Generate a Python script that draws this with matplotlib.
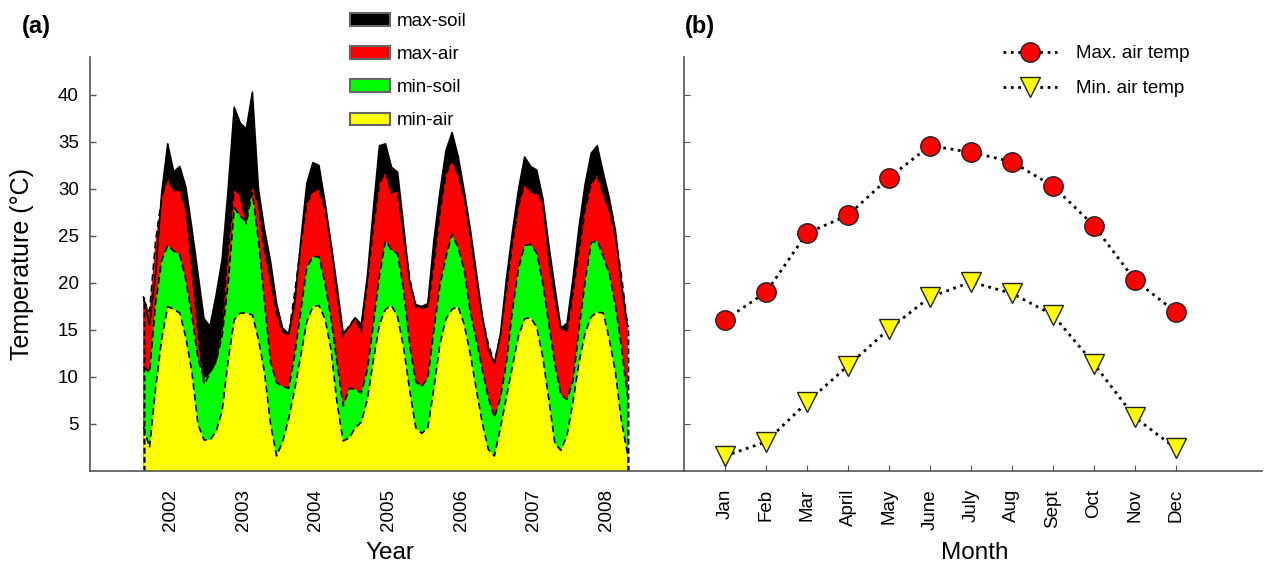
import numpy as np
import matplotlib
matplotlib.use("Agg")
import matplotlib.pyplot as plt
from matplotlib.patches import Patch

plt.rcParams['font.family'] = ['Liberation Sans', 'DejaVu Sans']

# ---- panel (a): monthly series, Feb 2002 .. Oct 2008 ----
month_idx = np.arange(1, 82)          # months counted from Jan 2002
dates = 2002 + (month_idx + 0.5) / 12  # mid-month, decimal year

max_soil = [18.5, 15.5, 21.0, 29.5, 34.8, 31.8, 32.4, 30.2, 25.8, 21.0,
            16.2, 15.4, 18.7, 22.5, 30.0, 38.7, 37.0, 36.4, 40.3, 30.0,
            25.7, 22.3, 17.8, 15.2, 14.6, 17.8, 24.5, 30.6, 32.8, 32.5,
            28.6, 24.2, 19.6, 14.7, 15.3, 16.3, 15.6, 20.7, 27.9, 34.6,
            34.8, 32.3, 31.8, 26.0, 20.1, 17.7, 17.5, 17.8, 24.5, 29.7,
            34.1, 36.0, 33.5, 29.8, 25.8, 21.2, 16.5, 12.9, 11.5, 14.5,
            20.5, 25.5, 30.0, 33.4, 32.4, 32.0, 29.0, 24.0, 19.5, 15.2,
            15.7, 20.5, 26.0, 30.5, 33.8, 34.6, 31.7, 29.0, 25.6, 19.8,
            15.4]
max_air = [18.2, 17.0, 24.5, 29.0, 31.2, 29.8, 29.9, 27.8, 21.7, 14.7,
           9.2, 10.4, 11.7, 15.3, 23.5, 30.0, 29.3, 26.3, 30.4, 28.3,
           23.5, 20.4, 16.8, 14.8, 14.5, 19.0, 24.0, 28.5, 29.7, 30.0,
           27.9, 24.0, 18.7, 14.3, 15.5, 16.3, 14.8, 20.0, 26.0, 30.6,
           31.8, 29.6, 29.8, 25.0, 20.5, 17.5, 17.3, 17.5, 22.0, 27.5,
           31.6, 33.0, 31.5, 29.2, 25.0, 20.5, 16.3, 13.5, 11.5, 14.5,
           19.3, 24.3, 28.2, 30.5, 29.7, 29.5, 28.6, 22.5, 18.2, 15.2,
           14.8, 19.0, 23.5, 27.8, 30.5, 31.5, 29.5, 27.7, 25.0, 20.8,
           15.5]
min_soil = [11.1, 10.5, 17.8, 22.4, 24.0, 23.4, 23.0, 20.3, 16.5, 12.0,
            9.8, 10.5, 11.6, 14.4, 20.0, 28.0, 27.1, 26.5, 29.6, 24.5,
            18.0, 11.6, 9.4, 9.0, 8.8, 12.4, 17.0, 21.7, 22.8, 22.8,
            20.0, 16.2, 11.5, 6.9, 8.8, 8.7, 8.3, 10.8, 15.7, 20.8,
            24.5, 23.5, 23.1, 19.2, 13.4, 9.5, 9.0, 9.9, 15.0, 19.8,
            22.8, 25.2, 23.8, 21.4, 17.0, 14.0, 10.8, 7.8, 5.7, 7.8,
            11.6, 17.2, 21.6, 24.0, 24.1, 23.2, 20.0, 15.6, 11.4, 8.1,
            7.6, 9.6, 15.2, 20.2, 24.3, 24.5, 22.8, 21.0, 17.6, 13.2,
            7.9]
min_air = [4.7, 2.5, 8.8, 14.0, 17.5, 17.2, 16.8, 14.2, 10.5, 5.0,
           3.3, 3.3, 4.2, 6.4, 11.8, 16.1, 16.8, 16.8, 16.6, 14.0,
           10.5, 5.0, 1.6, 3.1, 5.6, 8.7, 12.3, 15.9, 17.5, 17.6,
           16.2, 12.9, 7.2, 3.2, 3.5, 4.6, 5.2, 7.6, 11.8, 15.6,
           17.2, 17.6, 16.4, 13.1, 8.6, 4.6, 4.0, 4.6, 8.8, 13.5,
           16.2, 17.2, 17.5, 15.6, 12.5, 8.7, 5.1, 2.3, 1.6, 4.6,
           7.9, 11.2, 14.4, 16.2, 16.3, 15.3, 12.1, 7.6, 2.9, 2.2,
           3.8, 7.4, 11.6, 14.7, 16.4, 16.9, 16.8, 14.0, 10.5, 5.3,
           1.8]
year_labels = ['2002', '2003', '2004', '2005', '2006', '2007', '2008']

# ---- panel (b): monthly means ----
months = ['Jan', 'Feb', 'Mar', 'April', 'May', 'June', 'July', 'Aug',
          'Sept', 'Oct', 'Nov', 'Dec']
max_air_mean = [16.1, 19.0, 25.3, 27.2, 31.2, 34.6, 33.9, 32.9, 30.3, 26.1, 20.3, 16.9]
min_air_mean = [1.6, 3.1, 7.3, 11.2, 15.1, 18.5, 20.1, 18.9, 16.6, 11.4, 5.7, 2.4]

W, H = 1268, 567
fig = plt.figure(figsize=(W / 100, H / 100), dpi=100)

ax_bottom, ax_top = 471, 57
ax1 = fig.add_axes([90 / W, 1 - ax_bottom / H, (683 - 90) / W, (ax_bottom - ax_top) / H])
ax2 = fig.add_axes([684 / W, 1 - ax_bottom / H, (1262 - 684) / W, (ax_bottom - ax_top) / H])

spine_col = '#555555'
dash = (0, (4, 2.5))

layers = [(max_soil, 'black', 'max-soil'),
          (max_air, '#ff0000', 'max-air'),
          (min_soil, '#00ff00', 'min-soil'),
          (min_air, '#ffff00', 'min-air')]
for vals, col, lab in layers:
    ax1.fill_between(dates, 0, vals, facecolor=col, edgecolor='none', lw=0)
    ls = '-' if col == 'black' else dash
    ax1.plot(dates, vals, color='black', lw=1.2, linestyle=ls)
    ax1.plot([dates[0], dates[0]], [0, vals[0]], color='black', lw=1.0, linestyle=dash)
    ax1.plot([dates[-1], dates[-1]], [0, vals[-1]], color='black', lw=1.0, linestyle=dash)

ax1.set_xlim(2001.388, 2009.556)
ax1.set_ylim(0, 44.04)
ax1.set_yticks([5, 10, 15, 20, 25, 30, 35, 40])
ax1.set_xticks([int(y) + 0.5 for y in year_labels])
ax1.set_xticklabels(year_labels, rotation=90)
ax1.tick_params(axis='x', length=0, pad=13, labelsize=13.5)
ax1.tick_params(axis='y', direction='in', length=4, width=1, color=spine_col,
                pad=8, labelsize=13.5)
ax1.set_ylabel('Temperature (°C)', fontsize=18)
ax1.yaxis.set_label_coords(-0.095, 0.5)
ax1.set_xlabel('Year', fontsize=17.5)
ax1.xaxis.set_label_coords(0.506, -0.172)

handles = [Patch(facecolor=c, edgecolor='#666666', lw=1.5, label=l) for _, c, l in layers]
fig.legend(handles=handles, loc='upper left', bbox_to_anchor=(350 / W, 1 - 13 / H),
           frameon=False, fontsize=13.5, handlelength=2.13, handleheight=0.64,
           handletextpad=0.35, labelspacing=0.86, borderpad=0, borderaxespad=0)

# panel (b)
xm = np.arange(len(months))
ax2.plot(xm, max_air_mean, linestyle=':', color='black', lw=2, marker='o',
         markersize=14, markerfacecolor='#ff0000', markeredgecolor='#222222',
         markeredgewidth=1, label='Max. air temp')
ax2.plot(xm, min_air_mean, linestyle=':', color='black', lw=2, marker='v',
         markersize=14, markerfacecolor='#ffff00', markeredgecolor='#222222',
         markeredgewidth=1, label='Min. air temp')
ax2.set_xlim(-1.0, 13.1)
ax2.set_ylim(0, 44.04)
ax2.set_yticks([5, 10, 15, 20, 25, 30, 35, 40])
ax2.set_yticklabels([])
ax2.set_xticks(xm)
ax2.set_xticklabels(months, rotation=90)
ax2.tick_params(axis='x', direction='in', length=4, color=spine_col, pad=13, labelsize=13.5)
ax2.tick_params(axis='y', direction='in', length=4, color=spine_col)
ax2.set_xlabel('Month', fontsize=17.5)
ax2.xaxis.set_label_coords(0.503, -0.172)
ax2.legend(loc='upper left', bbox_to_anchor=(1003 / W, 1 - 45 / H),
           bbox_transform=fig.transFigure, frameon=False, fontsize=13.5,
           handlelength=2.9, handletextpad=1.0, labelspacing=0.95, numpoints=1,
           borderpad=0, borderaxespad=0)

for ax in (ax1, ax2):
    for s in ('top', 'right'):
        ax.spines[s].set_visible(False)
    for s in ('left', 'bottom'):
        ax.spines[s].set_color(spine_col)
        ax.spines[s].set_linewidth(1.2)

fig.text(22 / W, 1 - 27 / H, '(a)', fontsize=17, fontweight='bold', va='center', ha='left')
fig.text(685 / W, 1 - 27 / H, '(b)', fontsize=17, fontweight='bold', va='center', ha='left')

fig.savefig('out.png', dpi=100)
